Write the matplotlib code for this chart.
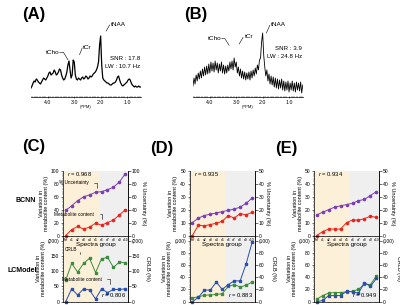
import numpy as np
from matplotlib import pyplot as plt
from matplotlib.ticker import MultipleLocator

plt.rcParams['font.family'] = ['Liberation Sans', 'DejaVu Sans']
plt.rcParams['mathtext.fontset'] = 'custom'
plt.rcParams['mathtext.it'] = 'Liberation Sans:italic'
plt.rcParams['mathtext.rm'] = 'Liberation Sans'

W, H = 400, 305

# spectres (ppm 4.64 -> 0.48, pas de 0.04)
spec_a = [12, 14, 17, 19, 18, 21, 20, 18, 17, 16, 18, 20, 22, 21, 20, 22, 24, 27, 28, 25,
          26, 27, 30, 28, 25, 26, 28, 31, 30, 25, 22, 20, 21, 24, 28, 35, 39, 30, 22, 25,
          40, 38, 25, 21, 20, 22, 21, 20, 22, 23, 21, 22, 24, 23, 21, 22, 24, 23, 24, 26,
          27, 28, 30, 33, 38, 55, 64, 35, 22, 20, 19, 18, 17, 17, 16, 15, 15, 16, 17, 17,
          18, 20, 23, 24, 20, 17, 15, 14, 15, 16, 17, 18, 20, 21, 20, 17, 15, 14, 13, 14,
          13, 13, 14, 13, 13]
spec_b = [14, 22, 16, 25, 19, 27, 21, 29, 22, 31, 24, 33, 25, 34, 26, 36, 27, 38, 29, 37,
          28, 39, 30, 37, 27, 36, 29, 38, 27, 35, 26, 34, 27, 35, 29, 38, 31, 39, 30, 42,
          33, 38, 27, 33, 24, 31, 22, 29, 21, 28, 20, 27, 21, 28, 20, 29, 22, 30, 24, 32,
          26, 35, 30, 40, 42, 58, 67, 45, 33, 24, 30, 19, 26, 16, 24, 15, 23, 13, 22, 12,
          21, 11, 20, 12, 21, 10, 19, 9, 18, 10, 19, 8, 17, 10, 19, 9, 17, 8, 18, 10,
          17, 9, 18, 7, 15]
ppm = np.linspace(4.64, 0.48, len(spec_a))

groups = ["Ref", "a1", "a2", "a3", "a4", "a5", "a6", "a7", "a8", "a9", "a10"]

# BCNN : % incertitude / contenu metabolite
c_unc = [39, 46, 54, 60, 63, 67, 68, 71, 75, 83, 96]
c_met = [0, 9, 14, 10, 13, 19, 16, 20, 24, 32, 40]
d_unc = [10, 13.5, 15.5, 16.5, 17.5, 18.5, 19.5, 20.5, 22, 25, 29]
d_met = [0, 8, 7.5, 8.5, 9.5, 11, 15.5, 13.5, 17, 16, 18]
e_unc = [16, 18, 20, 22, 23, 24, 25, 27, 28, 31, 34]
e_met = [0, 3, 5, 5, 5, 10, 12, 12, 13, 15, 14]

# LCModel : CRLB / contenu metabolite
c_crlb = [70, 125, 97, 125, 142, 95, 140, 145, 112, 130, 127]
c_lcm = [0, 42, 22, 42, 38, 9, 42, 30, 40, 40, 42]
d_crlb = [6, 8, 10.5, 11, 12, 13, 25, 28, 24, 27, 32]
d_lcm = [0, 7, 19, 19, 32, 20, 28, 34, 34, 62, 97]
e_crlb = [4, 10, 14, 15, 15, 16, 17, 20, 29, 28, 42]
e_lcm = [0, 2, 10, 10, 10, 17, 16, 14, 31, 25, 38]

r_top = ["0.968", "0.935", "0.934"]
r_bot = ["0.806", "0.883", "0.949"]

PURPLE = "#7b3fb5"
RED = "#e8261f"
GREEN = "#3d8b3d"
BLUE = "#2b4fae"
ORANGE_BG = "#fdf0d8"
GRAY_BG = "#efefef"


def box(x0, y0, x1, y1):
    return [x0 / W, 1 - y1 / H, (x1 - x0) / W, (y1 - y0) / H]


fig = plt.figure(figsize=(4, 3.05), dpi=100)


def spectre(pos, y, lw, labels, snr, lw_txt, y_snr):
    ax = fig.add_axes(box(*pos))
    ax.plot(ppm, y, color="black", lw=lw)
    ax.set_xlim(4.65, 0.46)
    ax.set_ylim(3, 80)
    for s in ["left", "right", "top"]:
        ax.spines[s].set_visible(False)
    ax.spines["bottom"].set_linewidth(0.5)
    ax.set_yticks([])
    ax.set_xticks([4.0, 3.0, 2.0, 1.0])
    ax.set_xticklabels(["4.0", "3.0", "2.0", "1.0"])
    ax.xaxis.set_minor_locator(MultipleLocator(0.1))
    ax.tick_params(axis="x", which="major", direction="inout", length=2, width=0.4,
                   labelsize=3.8, pad=1)
    ax.tick_params(axis="x", which="minor", direction="inout", length=1, width=0.3)
    ax.set_xlabel("(PPM)", fontsize=3, labelpad=0.5)
    for txt, xt, yt, ha, pts in labels:
        ax.text(xt, yt, txt, fontsize=4.6, ha=ha, va="center")
        ax.plot(pts[0], pts[1], color="black", lw=0.4)
    ax.text(0.99, y_snr, snr, transform=ax.transAxes,
            fontsize=4.4, ha="right", va="center")
    ax.text(0.99, y_snr - 0.11, lw_txt, transform=ax.transAxes,
            fontsize=4.4, ha="right", va="center")


spectre((30.7, 20, 141.3, 97), spec_a, 0.9,
        [("tNAA", 1.62, 76, "left", ([1.66, 1.79], [75, 69])),
         ("tCr", 2.67, 52.7, "left", ([2.70, 2.80], [52, 45.3])),
         ("tCho", 3.56, 47.7, "right", ([3.55, 3.41, 3.24], [47.7, 47.7, 40.3]))],
        "SNR : 17.8", "LW : 10.7 Hz", 0.5)
spectre((192.7, 20, 303.3, 97), spec_b, 0.6,
        [("tNAA", 1.67, 76, "left", ([1.73, 1.86], [74.7, 67])),
         ("tCr", 2.67, 63.7, "left", ([2.74, 2.89], [62.7, 56])),
         ("tCho", 3.56, 61.3, "right", ([3.55, 3.43, 3.27], [61.3, 61.3, 54.7]))],
        "SNR : 3.9", "LW : 24.8 Hz", 0.63)


def style(ax, ticks, labels):
    ax.set_yticks(ticks)
    ax.set_yticklabels(labels)
    ax.yaxis.set_minor_locator(MultipleLocator((ticks[1] - ticks[0]) / 5))
    ax.tick_params(axis="y", which="major", length=1.8, width=0.4, labelsize=3.6, pad=1)
    ax.tick_params(axis="y", which="minor", length=1, width=0.3)
    for s in ax.spines.values():
        s.set_linewidth(0.5)


def panneau(x0, unc, met, crlb, lcm, top_max, bot_max, r1, r2, notes):
    x1 = x0 + 64.5
    x = np.arange(len(groups))
    # haut : BCNN
    ax1 = fig.add_axes(box(x0, 171, x1, 235.5))
    ax1.set_zorder(3)
    ax1.patch.set_visible(False)
    ax1.axvspan(-1, 5.5, color=ORANGE_BG, lw=0, zorder=0)
    ax1.axvspan(5.5, 11, color=GRAY_BG, lw=0, zorder=0)
    ax1.plot(x, unc, color=PURPLE, lw=0.7, marker="o", ms=1.6, clip_on=False)
    ax1.plot(x, met, color=RED, lw=0.7, marker="o", ms=1.6, clip_on=False)
    ax1.set_xlim(-0.4, 10.4)
    ax1.set_ylim(0, top_max)
    step = top_max / 5
    tk = [step * i for i in range(6)]
    tl = [str(int(t)) for t in tk]
    style(ax1, tk, tl)
    ax1.spines["top"].set_visible(False)
    ax1.set_xticks(x)
    ax1.set_xticklabels(groups)
    ax1.tick_params(axis="x", length=1, width=0.3, labelsize=2.4, pad=0.5)
    ax1.set_xlabel("Spectra group", fontsize=4.6, labelpad=0)
    ax1.set_ylabel("Variation in\nmetabolite content (%)", fontsize=4, labelpad=1.5,
                   linespacing=1.0)
    sec1 = ax1.secondary_yaxis("right")
    style(sec1, tk, tl)
    sec1.set_ylabel("% Uncertainty (%)", fontsize=4, rotation=270, labelpad=4.5)
    ax1.text(0.3, top_max * 0.95, "$r$ = " + r1, fontsize=4.2, va="center")

    # bas : LCModel
    ax2 = fig.add_axes(box(x0, 235.5, x1, 301.7))
    ax2.set_zorder(1)
    ax2.axvspan(-1, 5.5, color=ORANGE_BG, lw=0, zorder=0)
    ax2.axvspan(5.5, 11, color=GRAY_BG, lw=0, zorder=0)
    ax2.plot(x, crlb, color=GREEN, lw=0.7, marker="s", ms=1.5, clip_on=False)
    ax2.plot(x, lcm, color=BLUE, lw=0.7, marker="s", ms=1.5, clip_on=False)
    ax2.set_xlim(-0.4, 10.4)
    ax2.set_ylim(0, bot_max * 66.2 / 61.2)
    step = bot_max / (4 if bot_max == 200 else 5)
    n = int(round(bot_max / step))
    tk = [step * i for i in range(n + 1)]
    tl = [str(int(t)) for t in tk[:-1]] + ["(" + str(int(bot_max)) + ")"]
    style(ax2, tk, tl)
    ax2.spines["top"].set_visible(False)
    ax2.set_xticks(x)
    ax2.tick_params(axis="x", length=1, width=0.3, labelbottom=False)
    ax2.set_ylabel("Variation in\nmetabolite content (%)", fontsize=4, labelpad=1.5,
                   linespacing=1.0)
    sec2 = ax2.secondary_yaxis("right")
    style(sec2, tk, tl)
    sec2.set_ylabel("CRLB (%)", fontsize=4, rotation=270, labelpad=4.5)
    ax2.text(10.1, bot_max * 0.05, "$r$ = " + r2, fontsize=4.2, ha="right", va="bottom")

    if notes:
        arr = dict(arrowstyle="-", lw=0.4, color="black",
                   connectionstyle="angle,angleA=0,angleB=90,rad=0")
        ax1.annotate("% Uncertainty", xy=(5.2, 70), xytext=(3.8, 81.5), fontsize=3.4,
                     ha="right", va="center", arrowprops=arr)
        ax1.annotate("Metabolite content", xy=(6.1, 22), xytext=(4.75, 32.7), fontsize=3.4,
                     ha="right", va="center", arrowprops=arr)
        ax2.annotate("CRLB", xy=(2.4, 155), xytext=(1.9, 171), fontsize=3.4,
                     ha="right", va="center", arrowprops=arr)
        ax2.annotate("Metabolite content", xy=(7.4, 49), xytext=(6.05, 73), fontsize=3.4,
                     ha="right", va="center", arrowprops=arr)


panneau(63.3, c_unc, c_met, c_crlb, c_lcm, 100, 200, r_top[0], r_bot[0], True)
panneau(190, d_unc, d_met, d_crlb, d_lcm, 50, 100, r_top[1], r_bot[1], False)
panneau(314.3, e_unc, e_met, e_crlb, e_lcm, 50, 100, r_top[2], r_bot[2], False)

# etiquettes des panneaux
for txt, xp, yp in [("(A)", 22, 14), ("(B)", 184, 14), ("(C)", 22, 147),
                    ("(D)", 150, 149), ("(E)", 275, 149)]:
    fig.text(xp / W, 1 - yp / H, txt, fontsize=12, fontweight="bold", ha="left", va="center")
fig.text(16 / W, 1 - 200 / H, "BCNN", fontsize=5, fontweight="bold", ha="left", va="center")
fig.text(8 / W, 1 - 271 / H, "LCModel", fontsize=5, fontweight="bold", ha="left",
         va="center")

fig.savefig("out.png", dpi=100)
